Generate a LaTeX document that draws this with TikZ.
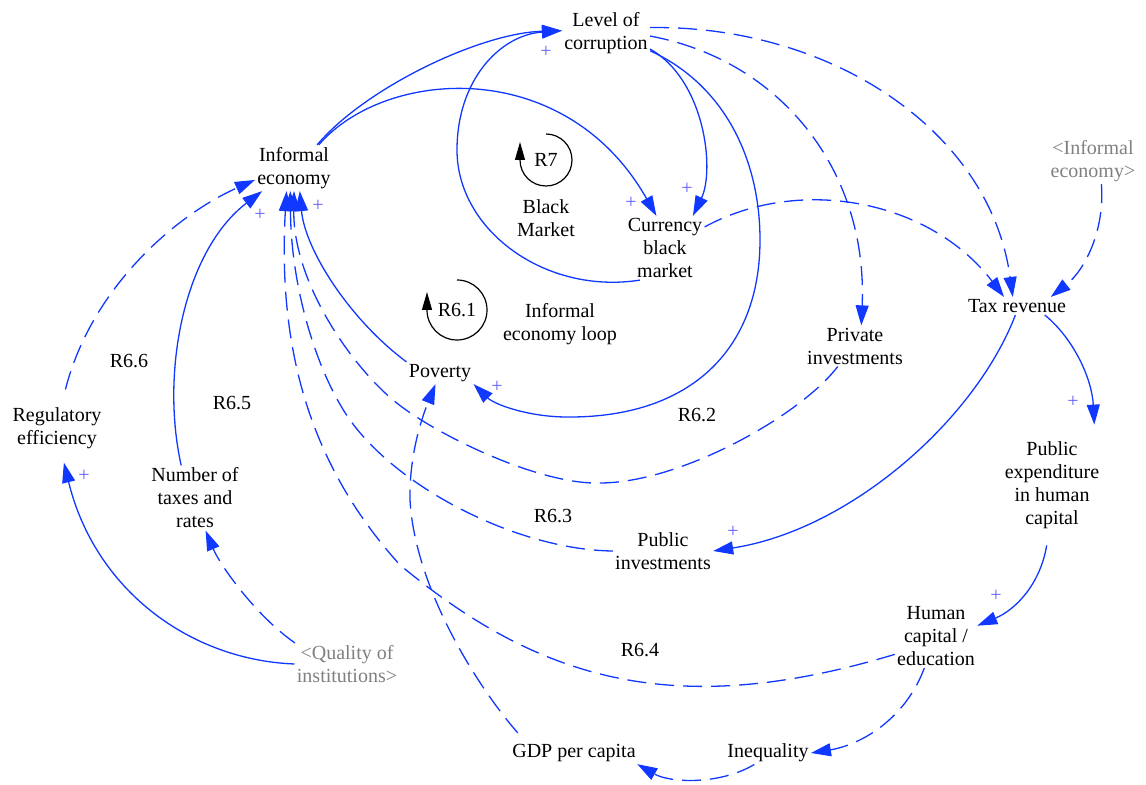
\documentclass[tikz,border=0pt]{standalone}
\usepackage{fontspec}
\setmainfont{Liberation Serif}
\usepackage{tikz}
\usetikzlibrary{arrows.meta}
\definecolor{cldBlue}{RGB}{16,56,255}
\definecolor{cldPlus}{RGB}{96,96,255}
\definecolor{cldGray}{RGB}{128,128,128}
\tikzset{
  varbox/.style={align=center,inner sep=1pt,font=\fontsize{10}{11.5}\selectfont},
  shadowbox/.style={varbox,text=cldGray},
  loopname/.style={varbox},
  polarity/.style={text=cldPlus,inner sep=0pt,font=\fontsize{10}{11.5}\selectfont},
  arrow/.style={-{Triangle[length=10pt,width=6.5pt]},draw=cldBlue,line width=0.65pt},
  darrow/.style={arrow,dash pattern=on 9.5pt off 4.5pt},
  looparrow/.style={-{Triangle[length=9pt,width=5pt]},draw=black,line width=0.6pt}
}

\begin{document}
\begin{tikzpicture}[x=0.5pt,y=-0.5pt]
  \useasboundingbox (0,0) rectangle (1146,785);
  \node[varbox] (loc) at (606,33) {Level of\\corruption};
  \node[varbox] (ie) at (294,168) {Informal\\economy};
  \node[varbox] (cbm) at (665,248) {Currency\\black\\market};
  \node[shadowbox] (ie2) at (1093,161) {<Informal\\economy>};
  \node[varbox] (tax) at (1017,306) {Tax revenue};
  \node[varbox] (priv) at (855,346) {Private\\investments};
  \node[varbox] (pov) at (440,373) {Poverty};
  \node[varbox,minimum height=60pt] (pe) at (1052,485)
    {Public\\expenditure\\in human\\capital};
  \node[varbox] (hc) at (936,636) {Human\\capital /\\education};
  \node[varbox] (pubinv) at (663,551) {Public\\investments};
  \node[varbox] (regeff) at (57,428) {Regulatory\\efficiency};
  \node[varbox] (ntr) at (195,498) {Number of\\taxes and\\rates};
  \node[shadowbox] (qoi) at (347,664) {<Quality of\\institutions>};
  \node[varbox] (gdp) at (574,753) {GDP per capita};
  \node[varbox] (ineq) at (768,753) {Inequality};

  % loop markers
  \node[loopname] (r7) at (546,160) {R7};
  \node[loopname] (r7name) at (546,218) {Black\\Market};
  \node[loopname] (r61) at (457,310) {R6.1};
  \node[loopname] (r61name) at (560,324) {Informal\\economy loop};
  \node[loopname] (r62) at (697,415) {R6.2};
  \node[loopname] (r63) at (553,516) {R6.3};
  \node[loopname] (r64) at (640,650) {R6.4};
  \node[loopname] (r65) at (232,403) {R6.5};
  \node[loopname] (r66) at (129,361) {R6.6};
  \draw[looparrow] (r7) ++(90:13pt) arc[start angle=90,end angle=-180,radius=13pt] -- ++(0,-18);
  \draw[looparrow] (r61) ++(90:15pt) arc[start angle=90,end angle=-180,radius=15pt] -- ++(0,-18);

  % black market loop
  \draw[arrow] (ie.45) .. controls (365,88) and (480,33) .. (loc.177);
  \draw[arrow] (ie.43) .. controls (385,68) and (565,55) .. (cbm.105);
  \draw[arrow] (loc.-20) .. controls (705,80) and (715,170) .. (cbm.49);
  \draw[arrow] (cbm.-128) .. controls (545,295) and (457,230) .. (457,150)
    .. controls (457,80) and (500,35) .. (loc.177);

  % informal economy loops
  \draw[arrow] (loc.-22) .. controls (725,85) and (760,160) .. (760,240)
    .. controls (760,350) and (690,418) .. (567,417)
    .. controls (530,417) and (495,405) .. (pov.south east);
  \draw[arrow] (pov.north west) .. controls (350,320) and (305,250) .. (ie.-76);
  \draw[darrow] (loc.-4) .. controls (780,60) and (868,170) .. (priv.73);
  \draw[darrow] (priv.-130) .. controls (800,416) and (680,483) .. (600,483)
    .. controls (540,485) and (435,435) .. (393,400)
    .. controls (348,362) and (293,280) .. (ie.-90);
  \draw[darrow] (loc.7) .. controls (830,25) and (990,130) .. (tax.115);
  \draw[darrow] (cbm.28) .. controls (800,175) and (930,200) .. (tax.145);
  \draw[darrow] (ie2.-70) .. controls (1105,230) and (1085,270) .. (tax.15);
  \draw[arrow] (tax.-100) .. controls (975,420) and (850,530) .. (pubinv.0);
  \draw[darrow] (pubinv.180) .. controls (520,550) and (400,490) .. (350,420)
    .. controls (318,375) and (291,290) .. (ie.-99);
  \draw[arrow] (tax.-18) .. controls (1075,340) and (1092,380) .. (pe.55);
  \draw[arrow] (pe.-95) .. controls (1040,585) and (1015,610) .. (hc.14);
  \draw[darrow] (hc.-156) .. controls (674,721) and (539,680) .. (400,565)
    .. controls (305,460) and (278,340) .. (ie.-108);
  \draw[darrow] (hc.-110) .. controls (905,720) and (860,745) .. (ineq.0);
  \draw[darrow] (ineq.-140) .. controls (720,785) and (670,783) .. (gdp.-10);
  \draw[darrow,shorten <=6pt] (gdp.167) .. controls (480,690) and (415,590) .. (410,500)
    .. controls (409,450) and (425,410) .. (pov.-112);

  % institutions
  \draw[arrow] (ntr.113) .. controls (160,370) and (185,250) .. (ie.-144);
  \draw[darrow,shorten <=8pt] (regeff.79) .. controls (91,289) and (174,216) .. (ie.-163);
  \draw[arrow,shorten >=6pt] (qoi.180) .. controls (190,660) and (95,590) .. (regeff.-80);
  \draw[darrow] (qoi.158) .. controls (255,615) and (220,565) .. (ntr.-72);

  % polarities
  \node[polarity] (p1) at (546,52) {+};
  \node[polarity] (p2) at (631,203) {+};
  \node[polarity] (p3) at (687,189) {+};
  \node[polarity] (p4) at (497,387) {+};
  \node[polarity] (p5) at (318,206) {+};
  \node[polarity] (p6) at (260,215) {+};
  \node[polarity] (p7) at (84,476) {+};
  \node[polarity] (p8) at (1073,402) {+};
  \node[polarity] (p9) at (733,532) {+};
  \node[polarity] (p10) at (996,596) {+};
\end{tikzpicture}
\end{document}
